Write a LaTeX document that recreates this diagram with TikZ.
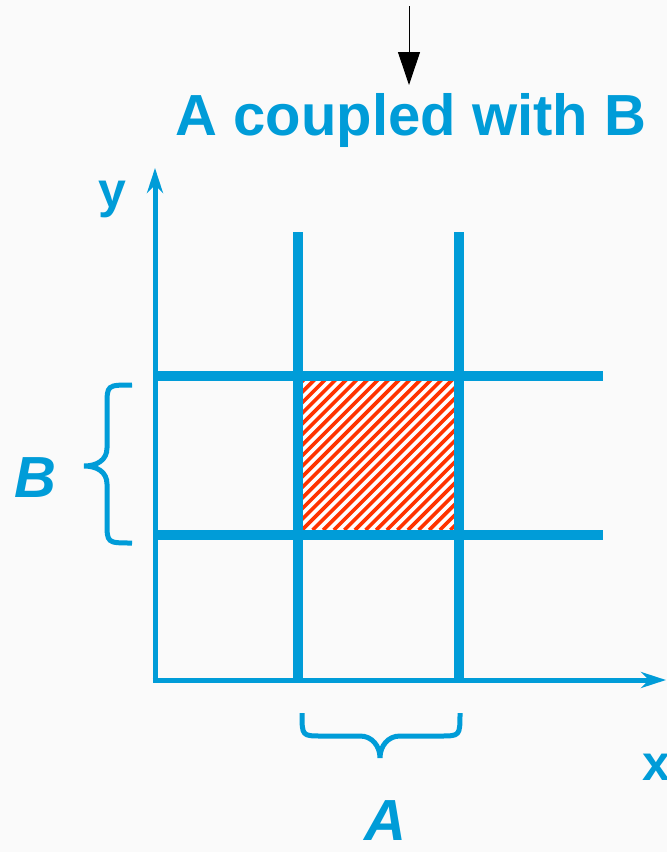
\documentclass[tikz,border=0pt]{standalone}
\usepackage{fontspec}
\setmainfont{Liberation Sans}
\usetikzlibrary{arrows.meta,calc}
\definecolor{cblue}{RGB}{0,156,216}
\definecolor{cred}{RGB}{255,51,0}
\tikzset{axisln/.style={cblue, line width=5pt, -{Stealth[length=25pt,width=16pt,inset=8pt]}},
  gline/.style={cblue, line width=10pt},
  brc/.style={cblue, line width=5pt},
  lbl/.style={cblue, inner sep=0pt, anchor=base, font=\bfseries\fontsize{#1}{#1}\selectfont}}

\begin{document}
\begin{tikzpicture}[x=1pt, y=-1pt]
  \useasboundingbox (0,0) rectangle (667,852);
  \fill[black!2] (0,0) rectangle (667,852);
  % hatched cell
  \begin{scope}
    \clip (303,381) rectangle (454,530);
    \fill[white] (303,381) rectangle (454,530);
    \foreach \s in {0,...,31}
      \draw[cred, line width=3.6pt] (143+10.6*\s,530) -- ++(160,-160);
  \end{scope}
  % grid lines
  \foreach \x in {298,459} \draw[gline] (\x,232) -- (\x,678);
  \foreach \y in {376,535} \draw[gline] (155,\y) -- (603,\y);
  % axes
  \coordinate (o) at (155,680);
  \coordinate (ytop) at (155,168);
  \coordinate (xend) at (666,680);
  \draw[axisln] ($(o)+(0,-2)$) -- (ytop);
  \draw[axisln] ($(o)+(-2.5,0)$) -- (xend);
  \node[lbl=50] (ylab) at (112,207) {y};
  \node[lbl=50] (xlab) at (656,780) {x};
  % braces
  \coordinate (btop) at (132,385);
  \coordinate (bbot) at (132,543);
  \coordinate (aleft) at (302,713);
  \coordinate (aright) at (460,713);
  \draw[brc] (btop) .. controls (107,385) .. (107,406) -- (107,448)
    .. controls (107,460) and (97,466) .. (84,466) .. controls (97,466) and (107,472) .. (107,484)
    -- (107,522) .. controls (107,543) .. (bbot);
  \draw[brc] (aleft) .. controls (302,736) .. (322,736) -- (360,736)
    .. controls (372,736) and (380,746) .. (380,758) .. controls (380,746) and (388,736) .. (400,736)
    -- (440,736) .. controls (460,736) .. (aright);
  \node[lbl=58] (blab) at (35,497) {\itshape B};
  \node[lbl=58] (alab) at (385,840) {\itshape A};
  % title
  \node[lbl=58] (ttl) at (411,135) {A coupled with B};
  \coordinate (src) at (409,6);
  \coordinate (tip) at (409,85);
  \draw[line width=1pt, -{Triangle[length=33pt,width=22pt]}] (src) -- (tip);
\end{tikzpicture}
\end{document}
